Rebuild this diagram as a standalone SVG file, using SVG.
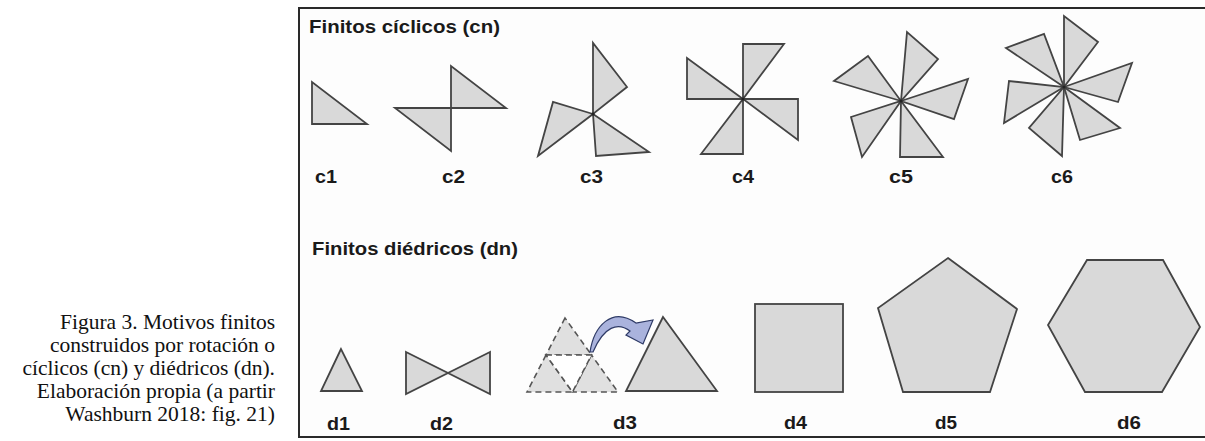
<svg xmlns="http://www.w3.org/2000/svg" width="1205" height="441" viewBox="0 0 1205 441">
<style>
.sh{fill:#d9d9d9;stroke:#444;stroke-width:1.8;stroke-linejoin:miter}
.ds{fill:#e0e0e0;stroke:#555;stroke-width:1.6;stroke-dasharray:6 4}
.dw{fill:#ffffff;stroke:#555;stroke-width:1.6;stroke-dasharray:6 4}
.hd{font-family:"Liberation Sans",Arial,sans-serif;font-weight:bold;font-size:18px;fill:#1a1a1a}
.lb{font-family:"Liberation Sans",Arial,sans-serif;font-weight:bold;font-size:18px;fill:#1a1a1a}
.cap{font-family:"Liberation Serif","Times New Roman",serif;font-size:21.5px;fill:#111;text-anchor:end}
.ctr{fill:#222}
</style>
<rect x="0" y="0" width="1205" height="441" fill="#ffffff"/>
<g id="caption">
<text class="cap" x="275" y="329">Figura 3. Motivos finitos</text>
<text class="cap" x="275" y="352">construidos por rotación o</text>
<text class="cap" x="275" y="375">cíclicos (cn) y diédricos (dn).</text>
<text class="cap" x="275" y="398">Elaboración propia (a partir</text>
<text class="cap" x="275" y="421">Washburn 2018: fig. 21)</text>
</g>
<g id="frame">
<rect x="299" y="8" width="920" height="429" fill="#fdfdfd" stroke="#2a2a2a" stroke-width="2"/>
<text class="hd" x="309" y="33" textLength="191" lengthAdjust="spacingAndGlyphs">Finitos cíclicos (cn)</text>
<text class="hd" x="312" y="255" textLength="206" lengthAdjust="spacingAndGlyphs">Finitos diédricos (dn)</text>
</g>
<g id="c1">
<polygon class="sh" points="312,82 312,124 367,124"/>
<text class="lb" x="315" y="183" textLength="22" lengthAdjust="spacingAndGlyphs">c1</text>
</g>
<g id="c2">
<polygon class="sh" points="451,66 451,108 506,108"/>
<polygon class="sh" points="395,108 451,108 451,151"/>
<text class="lb" x="442" y="183" textLength="23" lengthAdjust="spacingAndGlyphs">c2</text>
</g>
<g id="c3">
<polygon class="sh" points="593,114 593,43 627,87"/>
<polygon class="sh" points="593,114 553,102 538,156"/>
<polygon class="sh" points="593,114 596,156 649,152"/>
<circle class="ctr" cx="593" cy="114" r="1.6"/>
<text class="lb" x="580" y="183" textLength="23" lengthAdjust="spacingAndGlyphs">c3</text>
</g>
<g id="c4">
<polygon class="sh" points="743,99 743,44 784,44"/>
<polygon class="sh" points="743,99 687,58 687,99"/>
<polygon class="sh" points="743,99 798,99 798,140"/>
<polygon class="sh" points="743,99 743,154 701,154"/>
<circle class="ctr" cx="743" cy="99" r="1.6"/>
<text class="lb" x="732" y="183" textLength="22" lengthAdjust="spacingAndGlyphs">c4</text>
</g>
<g id="c5">
<polygon class="sh" points="901,101 907,32 938,59"/>
<polygon class="sh" points="901,101 968,79 954,119"/>
<polygon class="sh" points="901,101 943,157 900,157"/>
<polygon class="sh" points="901,101 862,157 851,117"/>
<polygon class="sh" points="901,101 834,81 868,56"/>
<circle class="ctr" cx="901" cy="101" r="1.6"/>
<text class="lb" x="889" y="183" textLength="24" lengthAdjust="spacingAndGlyphs">c5</text>
</g>
<g id="c6">
<polygon class="sh" points="1064,87 1064,16 1098,42"/>
<polygon class="sh" points="1064,87 1132,63 1118,102"/>
<polygon class="sh" points="1064,87 1120,128 1080,140"/>
<polygon class="sh" points="1064,87 1062,156 1029,128"/>
<polygon class="sh" points="1064,87 1004,123 1009,81"/>
<polygon class="sh" points="1064,87 1006,48 1044,34"/>
<circle class="ctr" cx="1064" cy="87" r="1.6"/>
<text class="lb" x="1051" y="183" textLength="22" lengthAdjust="spacingAndGlyphs">c6</text>
</g>
<g id="d1">
<polygon class="sh" points="341,349 321,391 362,391"/>
<text class="lb" x="327" y="430" textLength="23" lengthAdjust="spacingAndGlyphs">d1</text>
</g>
<g id="d2">
<polygon class="sh" points="406,352 448,373 406,394"/>
<polygon class="sh" points="490,352 448,373 490,394"/>
<text class="lb" x="430" y="430" textLength="23" lengthAdjust="spacingAndGlyphs">d2</text>
</g>
<g id="d3">
<polygon class="ds" points="565,318 546,355 591.5,355"/>
<polygon class="ds" points="546,355 527,392 572.5,392"/>
<polygon class="ds" points="591.5,355 572.5,392 618,392"/>
<polygon class="dw" points="546,355 591.5,355 572.5,392"/>
<polygon class="sh" points="663,317 626,391 717,391"/>
<text class="lb" x="613" y="429" textLength="24" lengthAdjust="spacingAndGlyphs">d3</text>
</g>
<g id="d4">
<rect class="sh" x="755" y="304" width="88" height="88"/>
<text class="lb" x="784" y="429" textLength="23" lengthAdjust="spacingAndGlyphs">d4</text>
</g>
<g id="d5">
<polygon class="sh" points="948,258 1017,309 990,392 903,392 878,308"/>
<text class="lb" x="935" y="429" textLength="22" lengthAdjust="spacingAndGlyphs">d5</text>
</g>
<g id="d6">
<polygon class="sh" points="1087,260 1163,260 1200,327 1162,392 1085,392 1048,325"/>
<text class="lb" x="1117" y="429" textLength="24" lengthAdjust="spacingAndGlyphs">d6</text>
</g>
<g id="connectors">
<path d="M590,352 C594,326 612,306 636,323 L653,320 L643,344 L626,335 L630,331 C618,322 604,326 593,352 Z" fill="#aab3dd" stroke="#2e3a66" stroke-width="1.2" stroke-linejoin="miter"/>
</g>
</svg>
